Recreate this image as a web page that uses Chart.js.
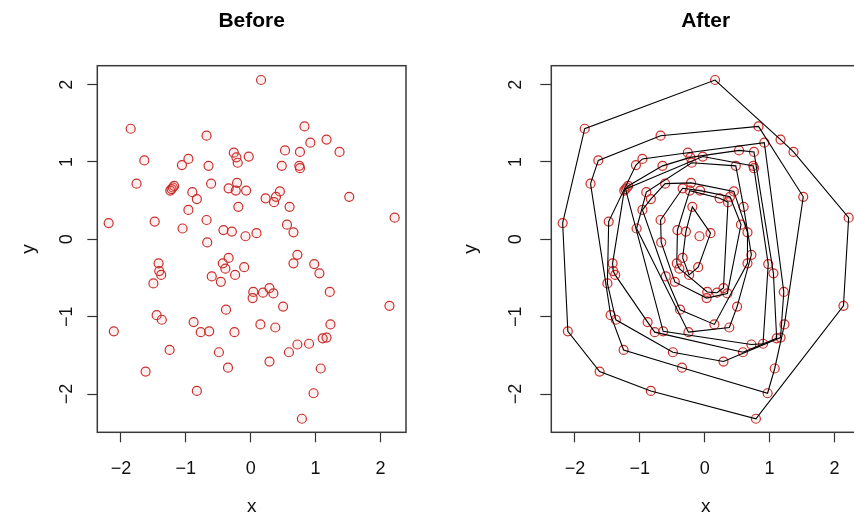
<!DOCTYPE html>
<html lang="en">
<head>
<meta charset="UTF-8">
<title>Before / After</title>
<script src="https://cdn.jsdelivr.net/npm/chart.js"></script>
<style>
  html, body { margin: 0; padding: 0; overflow: hidden; background: #fff; }
  body { position: relative; width: 854px; height: 528px; }
  .panel { position: absolute; top: 0; width: 440px; height: 528px; }
</style>
</head>
<body>
<div class="panel" style="left:0"><canvas id="before" width="440" height="528"></canvas></div>
<div class="panel" style="left:454px"><canvas id="after" width="440" height="528"></canvas></div>

<script>
// point cloud (same points in both panels)
var xs = [0.16, -1.85, -0.68, 0.83, 0.92, 1.17, 1.37, -1.64, -0.96, -1.06,
          -0.65, -0.26, -0.22, -0.20, -0.03, 0.53, 0.76, 0.48, 0.75, 0.76,
          -1.76, -1.24, -1.22, -1.20, -1.18, -0.90, -0.83, -0.61, -0.34, -0.21,
          -0.23, -0.07, -0.19, 0.23, 0.36, 0.39, 0.45, 0.60, 1.52, 2.22,
          -2.19, -1.48, -0.96, -1.05, -0.68, -0.67, -0.42, -0.29, -0.08, 0.09,
          0.56, 0.66, 0.72, 0.66, 0.98, 1.06, 1.22, 2.14, -1.42, -1.41,
          -1.38, -1.50, -0.34, -0.43, -0.39, -0.24, -0.10, -0.60, -0.46, 0.04,
          0.03, 0.19, 0.29, 0.35, 0.50, -1.45, -1.37, -0.38, -2.11, -0.88,
          -0.77, -0.64, -0.25, 0.15, 0.38, 1.23, -1.25, -0.49, -0.35, 0.29,
          0.59, 0.72, 0.90, 1.11, 1.17, 1.08, -1.62, -0.83, 0.97, 0.79];
var ys = [2.06, 1.43, 1.34, 1.46, 1.25, 1.29, 1.13, 1.02, 1.04, 0.96,
          0.95, 1.12, 1.06, 0.99, 1.07, 1.15, 1.13, 0.95, 0.95, 0.92,
          0.72, 0.63, 0.65, 0.67, 0.69, 0.61, 0.52, 0.72, 0.66, 0.73,
          0.63, 0.63, 0.42, 0.53, 0.48, 0.55, 0.62, 0.42, 0.55, 0.28,
          0.21, 0.23, 0.38, 0.14, 0.25, -0.04, 0.12, 0.10, 0.04, 0.08,
          0.19, 0.09, -0.20, -0.31, -0.32, -0.44, -0.68, -0.86, -0.31, -0.41,
          -0.46, -0.57, -0.24, -0.31, -0.38, -0.46, -0.36, -0.48, -0.55, -0.68,
          -0.76, -0.69, -0.63, -0.70, -0.87, -0.98, -1.04, -0.91, -1.19, -1.07,
          -1.20, -1.19, -1.20, -1.10, -1.14, -1.10, -1.43, -1.46, -1.66, -1.58,
          -1.46, -1.36, -1.35, -1.28, -1.27, -1.67, -1.71, -1.96, -1.99, -2.32];

var xTicks = [-2, -1, 0, 1, 2];
var yTicks = [-2, -1, 0, 1, 2];
var xLimits = [-2.365, 2.395];
var yLimits = [-2.495, 2.245];

var points = xs.map(function (x, i) { return { x: x, y: ys[i] }; });

// convex hull (monotone chain), collinear points left for the next layer
function cross(o, a, b) { return (a.x - o.x) * (b.y - o.y) - (a.y - o.y) * (b.x - o.x); }
function hull(pts) {
    var p = pts.slice().sort(function (a, b) { return a.x - b.x || a.y - b.y; });
    var lower = [], upper = [];
    p.forEach(function (q) {
        while (lower.length >= 2 && cross(lower[lower.length - 2], lower[lower.length - 1], q) <= 0) lower.pop();
        lower.push(q);
    });
    for (var i = p.length - 1; i >= 0; i--) {
        var q = p[i];
        while (upper.length >= 2 && cross(upper[upper.length - 2], upper[upper.length - 1], q) <= 0) upper.pop();
        upper.push(q);
    }
    lower.pop(); upper.pop();
    return lower.concat(upper);
}

// peel the cloud layer by layer
function onionLayers(pts) {
    var rest = pts.slice(), layers = [];
    while (rest.length >= 3) {
        var h = hull(rest);
        layers.push(h.concat([h[0]]));
        rest = rest.filter(function (p) { return h.indexOf(p) < 0; });
    }
    if (rest.length === 2) layers.push(rest);
    return layers;
}

var frame = {
    id: 'frame',
    afterDraw: function (chart, args, opts) {
        var ctx = chart.ctx, a = chart.chartArea;
        ctx.save();
        ctx.strokeStyle = '#3a3a3a';
        ctx.lineWidth = 1.5;
        ctx.strokeRect(a.left, a.top, a.right - a.left, a.bottom - a.top);
        ctx.fillStyle = '#000';
        ctx.font = 'bold 21px "Liberation Sans", Arial, sans-serif';
        ctx.textAlign = 'center';
        ctx.textBaseline = 'middle';
        ctx.fillText(opts.text, (a.left + a.right) / 2, 21);
        ctx.restore();
    }
};

function minus(v) { return v < 0 ? '\u2212' + Math.abs(v) : String(v); }

function makePanel(id, title, withLayers, m) {
    var datasets = [];
    if (withLayers) {
        onionLayers(points).forEach(function (layer) {
            datasets.push({
                data: layer, showLine: true, borderColor: '#000', borderWidth: 1.1,
                pointRadius: 0, pointHoverRadius: 0, fill: false, tension: 0, order: 0
            });
        });
    }
    datasets.push({
        data: points, showLine: false, pointStyle: 'circle', pointRadius: 4.5,
        borderWidth: 1.2, borderColor: '#c8302c', backgroundColor: 'rgba(235,100,100,0.10)', order: 1
    });

    var tickFont = { family: '"Liberation Sans", Arial, sans-serif', size: 18 };
    var labelFont = { family: '"Liberation Sans", Arial, sans-serif', size: 19 };

    return new Chart(document.getElementById(id), {
        type: 'scatter',
        data: { datasets: datasets },
        options: {
            responsive: false,
            animation: false,
            layout: { padding: { left: 0, top: 65.7, right: 34, bottom: 0 } },
            plugins: { legend: { display: false }, tooltip: { enabled: false }, frame: { text: title } },
            scales: {
                x: {
                    type: 'linear', position: 'bottom', min: xLimits[0], max: xLimits[1],
                    afterBuildTicks: function (s) { s.ticks = xTicks.map(function (v) { return { value: v }; }); },
                    afterFit: function (s) { s.height = 95.7; },
                    border: { display: false },
                    grid: { drawOnChartArea: false, drawTicks: true, tickLength: 10, tickColor: '#333', tickWidth: 1.2 },
                    ticks: { autoSkip: false, padding: 16, color: '#111', font: tickFont, maxRotation: 0, callback: minus },
                    title: { display: true, text: 'x', color: '#111', font: labelFont, padding: { top: 0, bottom: 10 } }
                },
                y: {
                    type: 'linear', position: 'left', min: yLimits[0], max: yLimits[1],
                    afterBuildTicks: function (s) { s.ticks = yTicks.map(function (v) { return { value: v }; }); },
                    afterFit: function (s) { s.width = 97.3; },
                    border: { display: false },
                    grid: { drawOnChartArea: false, drawTicks: true, tickLength: m.tick, tickColor: '#333', tickWidth: 1.2 },
                    ticks: { autoSkip: false, padding: m.tickPad, crossAlign: 'center', minRotation: 90, maxRotation: 90,
                             color: '#111', font: tickFont, callback: minus },
                    title: { display: true, text: 'y', color: '#111', font: labelFont, padding: { top: m.titlePad, bottom: 0 } }
                }
            }
        },
        plugins: [frame]
    });
}

makePanel('before', 'Before', false, { tick: 10, tickPad: 10, titlePad: 17 });
makePanel('after', 'After', true, { tick: 11, tickPad: 14, titlePad: 5 });
</script>
</body>
</html>
